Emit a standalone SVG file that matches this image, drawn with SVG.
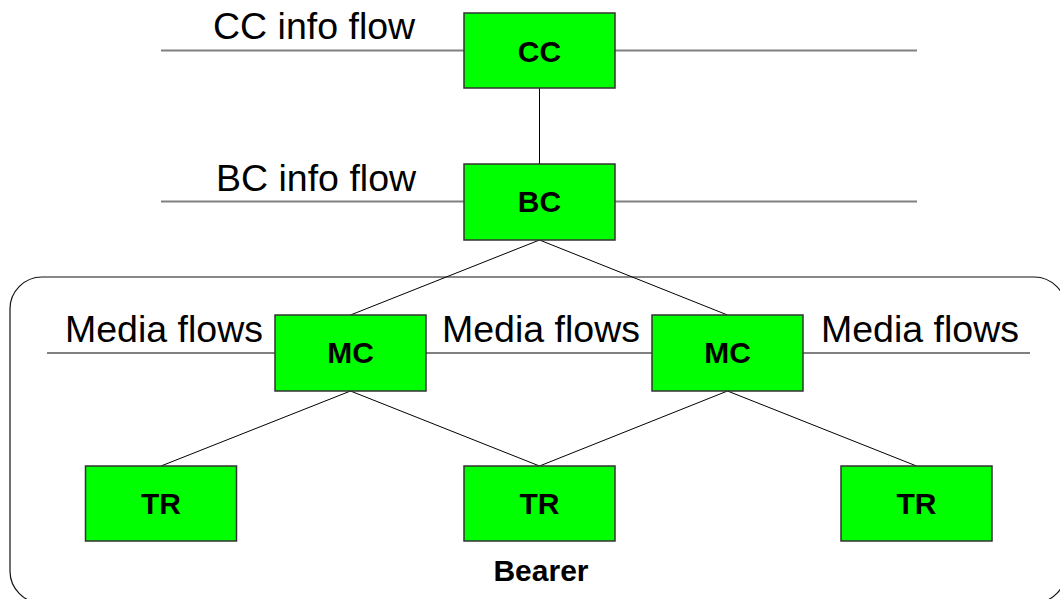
<svg xmlns="http://www.w3.org/2000/svg" width="1060" height="599" viewBox="0 0 1060 599">
<style>
  .flow { stroke: #808080; stroke-width: 2; fill: none; }
  .conn { stroke: #000; stroke-width: 1; fill: none; }
  .box { fill: #00FF00; stroke: #333; stroke-width: 1.5; }
  .lbl { font-family: "Liberation Sans", Arial, sans-serif; font-size: 37.5px; fill: #000; }
  .name { font-family: "Liberation Sans", Arial, sans-serif; font-size: 30px; font-weight: bold; fill: #000; text-anchor: middle; }
</style>
<rect width="1060" height="599" fill="#fff"/>
<g id="bearer">
  <rect x="10" y="277" width="1056" height="326" rx="32" ry="32" fill="none" stroke="#111" stroke-width="1.2"/>
  <text class="name" x="541" y="581">Bearer</text>
</g>
<g id="flows">
  <line class="flow" x1="161" y1="50.5" x2="917" y2="50.5"/>
  <line class="flow" x1="161" y1="201.5" x2="917" y2="201.5"/>
  <line class="flow" x1="47" y1="353" x2="1030" y2="353"/>
  <text class="lbl" x="213" y="39">CC info flow</text>
  <text class="lbl" x="216" y="191">BC info flow</text>
  <text class="lbl" x="65" y="342">Media flows</text>
  <text class="lbl" x="442" y="342">Media flows</text>
  <text class="lbl" x="821" y="342">Media flows</text>
</g>
<g id="connectors">
  <line class="conn" x1="539.5" y1="88" x2="539.5" y2="164"/>
  <line class="conn" x1="539.5" y1="240" x2="350.5" y2="315"/>
  <line class="conn" x1="539.5" y1="240" x2="727.5" y2="315"/>
  <line class="conn" x1="350.5" y1="391" x2="161" y2="466"/>
  <line class="conn" x1="350.5" y1="391" x2="539.5" y2="466"/>
  <line class="conn" x1="727.5" y1="391" x2="539.5" y2="466"/>
  <line class="conn" x1="727.5" y1="391" x2="916.5" y2="466"/>
</g>
<g id="cc">
  <rect class="box" x="464" y="13" width="151" height="75"/>
  <text class="name" x="539.5" y="62">CC</text>
</g>
<g id="bc">
  <rect class="box" x="464" y="164" width="151" height="76"/>
  <text class="name" x="539.5" y="212">BC</text>
</g>
<g id="mc1">
  <rect class="box" x="275" y="315" width="151" height="76"/>
  <text class="name" x="350.5" y="363">MC</text>
</g>
<g id="mc2">
  <rect class="box" x="652" y="315" width="151" height="76"/>
  <text class="name" x="727.5" y="363">MC</text>
</g>
<g id="tr1">
  <rect class="box" x="85.5" y="466" width="151" height="75"/>
  <text class="name" x="161" y="514">TR</text>
</g>
<g id="tr2">
  <rect class="box" x="464" y="466" width="151" height="75"/>
  <text class="name" x="539.5" y="514">TR</text>
</g>
<g id="tr3">
  <rect class="box" x="841" y="466" width="151" height="75"/>
  <text class="name" x="916.5" y="514">TR</text>
</g>
</svg>
